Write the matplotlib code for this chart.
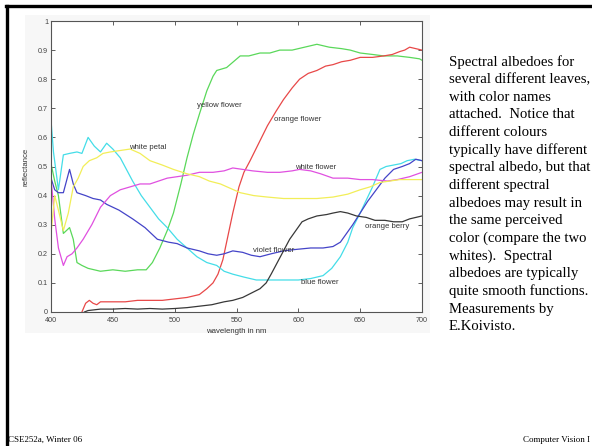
import matplotlib
matplotlib.use("Agg")
import matplotlib.pyplot as plt
from matplotlib.lines import Line2D
from matplotlib.patches import Rectangle

# spectral albedo readings (wavelength in nm, reflectance)
wl_yellow_flower = [400, 403, 406, 410, 415, 418, 421, 425, 430, 440, 450, 460, 470, 477, 482, 488, 494, 499,
                    505, 510, 515, 520, 526, 531, 534, 542, 553, 560, 569, 577, 585, 595, 605, 615, 625, 635,
                    642, 650, 660, 669, 680, 690, 698, 700]
r_yellow_flower = [0.51, 0.45, 0.40, 0.27, 0.29, 0.25, 0.17, 0.16, 0.15, 0.14, 0.145, 0.14, 0.145, 0.145, 0.17,
                   0.22, 0.28, 0.34, 0.44, 0.53, 0.61, 0.68, 0.76, 0.81, 0.83, 0.84, 0.88, 0.88, 0.89, 0.89,
                   0.90, 0.90, 0.91, 0.92, 0.91, 0.905, 0.90, 0.89, 0.885, 0.88, 0.88, 0.875, 0.87, 0.865]

wl_orange_flower = [425, 428, 431, 434, 437, 440, 450, 460, 470, 480, 490, 500, 510, 520, 526, 531, 535, 539,
                    543, 547, 552, 556, 561, 568, 575, 582, 588, 595, 601, 608, 615, 622, 628, 635, 642, 650,
                    660, 669, 676, 682, 686, 690, 695, 700]
r_orange_flower = [0.0, 0.03, 0.04, 0.03, 0.025, 0.035, 0.035, 0.035, 0.04, 0.04, 0.04, 0.045, 0.05, 0.06, 0.08,
                   0.10, 0.13, 0.18, 0.26, 0.34, 0.43, 0.48, 0.52, 0.58, 0.64, 0.69, 0.73, 0.77, 0.80, 0.82,
                   0.83, 0.845, 0.85, 0.86, 0.865, 0.875, 0.875, 0.88, 0.885, 0.895, 0.90, 0.91, 0.905, 0.90]

wl_blue_flower = [400, 402, 406, 410, 415, 421, 425, 430, 435, 440, 445, 450, 456, 461, 466, 473, 480, 487, 494,
                  502, 510, 518, 526, 534, 540, 547, 556, 566, 577, 588, 600, 610, 620, 627, 634, 640, 644, 650,
                  655, 660, 666, 671, 677, 683, 688, 694, 700]
r_blue_flower = [0.66, 0.55, 0.42, 0.54, 0.545, 0.55, 0.545, 0.60, 0.57, 0.55, 0.58, 0.56, 0.53, 0.49, 0.45,
                 0.40, 0.36, 0.32, 0.29, 0.25, 0.22, 0.19, 0.17, 0.16, 0.14, 0.13, 0.12, 0.11, 0.11, 0.11, 0.11,
                 0.115, 0.125, 0.15, 0.19, 0.24, 0.29, 0.34, 0.385, 0.43, 0.49, 0.50, 0.505, 0.51, 0.52, 0.525,
                 0.52]

wl_violet_flower = [400, 403, 406, 410, 415, 418, 421, 428, 434, 440, 445, 455, 466, 476, 486, 495, 502, 510,
                    520, 527, 534, 540, 547, 555, 562, 569, 578, 588, 598, 610, 620, 628, 634, 639, 644, 650,
                    656, 663, 670, 677, 684, 690, 695, 700]
r_violet_flower = [0.46, 0.42, 0.41, 0.41, 0.49, 0.44, 0.41, 0.40, 0.39, 0.385, 0.37, 0.35, 0.32, 0.29, 0.25,
                   0.24, 0.235, 0.22, 0.21, 0.20, 0.195, 0.20, 0.21, 0.205, 0.195, 0.19, 0.20, 0.21, 0.215,
                   0.22, 0.22, 0.225, 0.24, 0.27, 0.30, 0.34, 0.38, 0.42, 0.46, 0.49, 0.50, 0.51, 0.525, 0.52]

wl_white_flower = [400, 403, 406, 410, 413, 417, 421, 426, 433, 440, 448, 456, 464, 472, 480, 487, 494, 502,
                   510, 520, 531, 540, 547, 555, 563, 575, 585, 595, 601, 610, 618, 628, 640, 650, 660, 672,
                   680, 690, 700]
r_white_flower = [0.46, 0.32, 0.22, 0.16, 0.19, 0.20, 0.22, 0.25, 0.30, 0.36, 0.40, 0.42, 0.43, 0.44, 0.44,
                  0.45, 0.46, 0.465, 0.47, 0.48, 0.48, 0.485, 0.495, 0.49, 0.485, 0.48, 0.48, 0.485, 0.49,
                  0.485, 0.475, 0.46, 0.46, 0.455, 0.455, 0.45, 0.455, 0.465, 0.48]

wl_white_petal = [400, 403, 406, 410, 414, 418, 422, 426, 431, 437, 442, 448, 456, 464, 472, 480, 490, 499, 510,
                  520, 528, 537, 545, 553, 564, 575, 588, 601, 615, 628, 640, 650, 658, 666, 674, 682, 690, 700]
r_white_petal = [0.27, 0.40, 0.35, 0.28, 0.34, 0.43, 0.46, 0.50, 0.52, 0.53, 0.545, 0.55, 0.555, 0.56, 0.545,
                 0.52, 0.505, 0.49, 0.475, 0.465, 0.45, 0.44, 0.425, 0.41, 0.40, 0.395, 0.39, 0.39, 0.39, 0.395,
                 0.405, 0.42, 0.43, 0.445, 0.45, 0.455, 0.455, 0.455]

wl_orange_berry = [427, 430, 440, 450, 460, 470, 480, 490, 500, 510, 520, 530, 540, 547, 555, 562, 569, 574,
                   578, 583, 588, 593, 598, 603, 608, 615, 623, 628, 634, 640, 647, 655, 662, 670, 677, 684,
                   690, 695, 700]
r_orange_berry = [0.0, 0.005, 0.01, 0.01, 0.012, 0.01, 0.012, 0.01, 0.012, 0.015, 0.02, 0.025, 0.035, 0.04,
                  0.05, 0.065, 0.08, 0.10, 0.13, 0.17, 0.21, 0.25, 0.28, 0.31, 0.32, 0.33, 0.335, 0.34, 0.345,
                  0.34, 0.33, 0.325, 0.315, 0.315, 0.31, 0.31, 0.32, 0.325, 0.33]

# curve labels placed in data coords
label_names = ['yellow flower', 'orange flower', 'white petal', 'white flower',
               'orange berry', 'violet flower', 'blue flower']
label_x = [518, 580, 463, 597, 654, 563, 602]
label_y = [0.71, 0.66, 0.566, 0.497, 0.293, 0.213, 0.103]

caption_lines = ['Spectral albedoes for', 'several different leaves,', 'with color names',
                 'attached.  Notice that', 'different colours', 'typically have different',
                 'spectral albedo, but that', 'different spectral', 'albedoes may result in',
                 'the same perceived', 'color (compare the two', 'whites).  Spectral',
                 'albedoes are typically', 'quite smooth functions.', 'Measurements by', 'E.Koivisto.']

W, H = 592, 446
fig = plt.figure(figsize=(W / 100, H / 100), dpi=100)

# faint grey panel behind the chart
fig.add_artist(Rectangle((25 / W, 1 - 333 / H), 405 / W, 318 / H, transform=fig.transFigure,
                         facecolor='#f7f7f7', edgecolor='none', zorder=0))
# slide frame (top and left)
fig.add_artist(Line2D([6 / W, 1], [1 - 6 / H, 1 - 6 / H], transform=fig.transFigure, color='black', lw=2.4))
fig.add_artist(Line2D([6.5 / W, 6.5 / W], [0, 1 - 6 / H], transform=fig.transFigure, color='black', lw=2.4))

ax = fig.add_axes([51 / W, 1 - 312 / H, 371 / W, 291 / H])
ax.set_facecolor('white')
lw = 0.9
ax.plot(wl_yellow_flower, r_yellow_flower, color='#5ad85a', lw=lw)
ax.plot(wl_orange_flower, r_orange_flower, color='#e84848', lw=lw)
ax.plot(wl_blue_flower, r_blue_flower, color='#44dde8', lw=lw)
ax.plot(wl_violet_flower, r_violet_flower, color='#4444c8', lw=lw)
ax.plot(wl_white_flower, r_white_flower, color='#e050e0', lw=lw)
ax.plot(wl_white_petal, r_white_petal, color='#f2ee58', lw=lw)
ax.plot(wl_orange_berry, r_orange_berry, color='#383838', lw=lw)

for name, x, y in zip(label_names, label_x, label_y):
    ax.text(x, y, name, fontsize=5.6, family='Liberation Sans', color='#333333', va='center')

ax.set_xlim(400, 700)
ax.set_ylim(0, 1)
ax.set_xticks(range(400, 701, 50))
yt = [i / 10 for i in range(11)]
ax.set_yticks(yt)
ax.set_yticklabels(['0'] + ['%.1f' % v for v in yt[1:-1]] + ['1'])
ax.tick_params(direction='in', length=3, width=0.6, labelsize=5.2, colors='#444444',
               top=True, right=True, pad=2)
ax.tick_params(axis='x', pad=3.5)
for lab in ax.get_xticklabels() + ax.get_yticklabels():
    lab.set_family('Liberation Sans')
for s in ax.spines.values():
    s.set_color('#555555')
    s.set_linewidth(0.8)
ax.set_xlabel('wavelength in nm', fontsize=5.6, family='Liberation Sans', color='#333333', labelpad=3)
ax.set_ylabel('reflectance', fontsize=5.6, family='Liberation Sans', color='#333333', labelpad=6)

# caption text on the right
for i, line in enumerate(caption_lines):
    fig.text(449 / W, 1 - (62 + i * 17.65) / H, line, fontsize=10.6, family='Liberation Serif',
             va='center', ha='left', color='black')

fig.text(8 / W, 1 - 440 / H, 'CSE252a, Winter 06', fontsize=6.5, family='Liberation Serif', va='center')
fig.text(590 / W, 1 - 440 / H, 'Computer Vision I', fontsize=6.5, family='Liberation Serif',
         va='center', ha='right')

fig.savefig('out.png', dpi=100)
